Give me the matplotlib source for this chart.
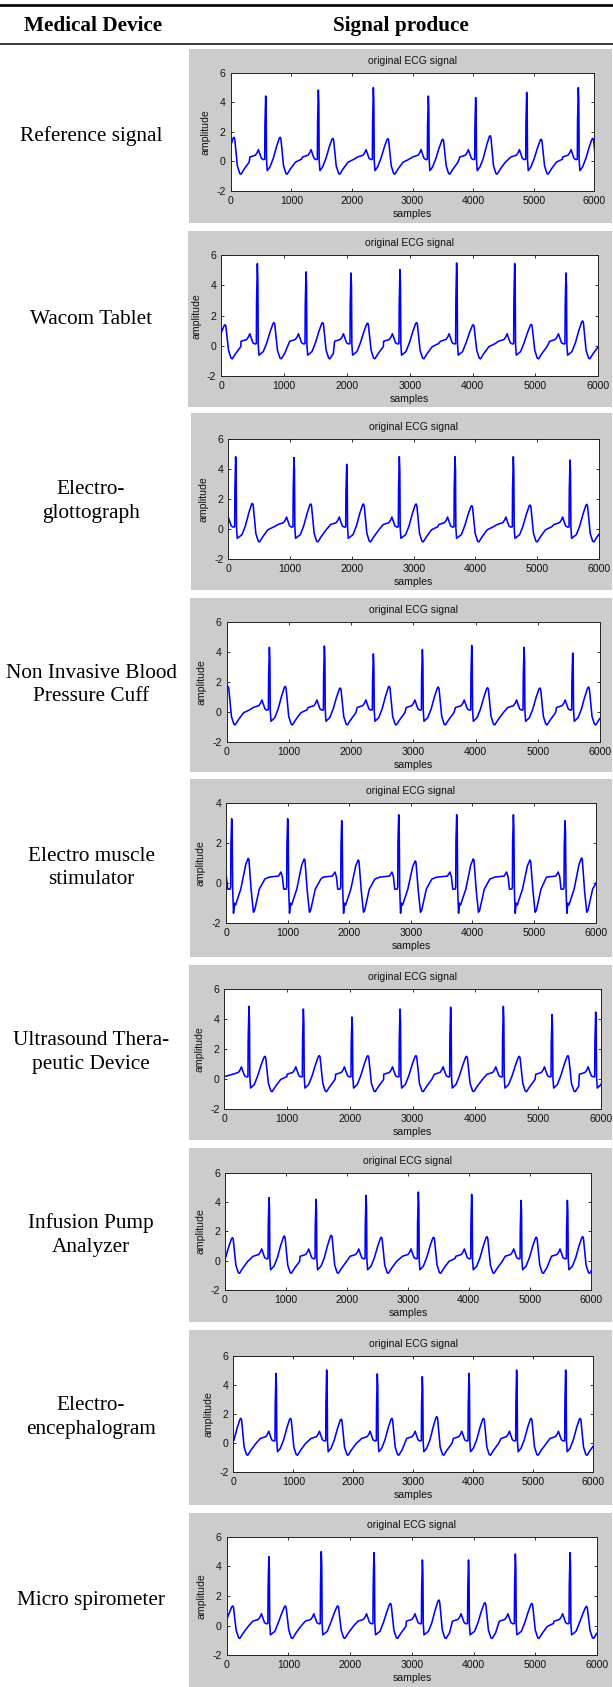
import matplotlib
matplotlib.use("Agg")
import matplotlib.pyplot as plt
from matplotlib.patches import Rectangle
from matplotlib.lines import Line2D

plt.rcParams["axes.unicode_minus"] = False

# ---------------- data ----------------
DEVICES = ["Reference signal", "Wacom Tablet", "Electro-\nglottograph",
           "Non Invasive Blood\nPressure Cuff", "Electro muscle\nstimulator",
           "Ultrasound Thera-\npeutic Device", "Infusion Pump\nAnalyzer",
           "Electro-\nencephalogram", "Micro spirometer"]
HEADER_LEFT = "Medical Device"
HEADER_RIGHT = "Signal produce"
PANEL_TITLE = "original ECG signal"
XLABEL = "samples"
YLABEL = "amplitude"
XTICKS = [0, 1000, 2000, 3000, 4000, 5000, 6000]

# R-peak sample positions / R amplitudes / T-wave amplitudes per device
R1_POS = [-185, 577, 1446, 2354, 3261, 4042, 4884, 5736, 6600]
R1_AMP = [4.5, 4.42, 4.83, 4.99, 4.42, 4.31, 4.67, 4.99, 4.5]
T1_AMP = [1.63, 1.63, 1.56, 1.54, 1.5, 1.74, 1.5, 1.56, 1.6]

R2_POS = [-200, 578, 1352, 2067, 2846, 3747, 4670, 5486, 6300]
R2_AMP = [5.0, 5.45, 4.9, 4.83, 5.05, 5.49, 5.45, 4.83, 5.0]
T2_AMP = [1.4, 1.54, 1.54, 1.5, 1.54, 1.4, 1.42, 1.65, 1.5]

R3_POS = [-780, 119, 1063, 1916, 2768, 3669, 4613, 5531, 6450]
R3_AMP = [4.8, 4.82, 4.76, 4.31, 4.82, 4.82, 4.82, 4.6, 4.8]
T3_AMP = [1.6, 1.71, 1.67, 1.67, 1.67, 1.56, 1.6, 1.64, 1.6]

R4_POS = [-235, 686, 1570, 2357, 3145, 3938, 4779, 5561, 6400]
R4_AMP = [4.3, 4.31, 4.4, 3.87, 4.16, 4.44, 4.31, 3.93, 4.3]
T4_AMP = [1.71, 1.71, 1.6, 1.71, 1.67, 1.62, 1.6, 1.67, 1.6]

R5_POS = [-830, 92, 1001, 1878, 2803, 3744, 4664, 5502, 6400]
R5_AMP = [3.2, 3.2, 3.2, 3.1, 3.4, 3.4, 3.4, 3.1, 3.2]
T5_AMP = [1.2, 1.23, 1.2, 1.15, 1.1, 1.2, 1.15, 1.25, 1.2]

R6_POS = [-600, 393, 1260, 2035, 2801, 3608, 4448, 5224, 5920, 6800]
R6_AMP = [4.5, 4.84, 4.66, 4.13, 4.66, 4.78, 4.84, 4.29, 4.46, 4.5]
T6_AMP = [1.5, 1.5, 1.55, 1.55, 1.55, 1.5, 1.5, 1.55, 1.5, 1.5]

R7_POS = [-129, 722, 1493, 2314, 3172, 4047, 4857, 5617, 6450]
R7_AMP = [4.3, 4.3, 4.18, 4.45, 4.68, 4.52, 4.11, 4.11, 4.3]
T7_AMP = [1.57, 1.68, 1.73, 1.6, 1.6, 1.64, 1.6, 1.64, 1.6]

R8_POS = [-117, 711, 1556, 2400, 3150, 3928, 4722, 5539, 6400]
R8_AMP = [4.8, 4.8, 5.03, 4.76, 4.57, 4.8, 5.03, 5.03, 4.8]
T8_AMP = [1.69, 1.69, 1.64, 1.69, 1.81, 1.69, 1.69, 1.69, 1.7]

R9_POS = [-170, 683, 1532, 2386, 3171, 3918, 4677, 5563, 6400]
R9_AMP = [4.8, 4.65, 4.99, 4.92, 4.43, 4.43, 4.83, 4.92, 4.8]
T9_AMP = [1.33, 1.33, 1.33, 1.5, 1.73, 1.55, 1.5, 1.3, 1.4]

# T-peak delay after R (samples) per device
T_DELAY = [240, 265, 272, 256, 268, 255, 252, 243, 268]
Y_LIMS = [(-2, 6)] * 4 + [(-2, 4)] + [(-2, 6)] * 4

# beat shape key points (offset from R, value, kind)
# kind: H = fraction of R amp, T = fraction of T amp (moves with T delay),
#       s = absolute (moves with T delay), a = absolute
POST_OFF = [0, 8, 14, 26, 80, 135, 190, 235, 250, 262, 305, 345, 365, 420, 500, 600]
POST_VAL = [1.0, 0.82, 0.1, -0.62, -0.38, 0.2, 0.62, 0.96, 1.0, 0.93, -0.3, -0.82, -0.86, -0.5, -0.05, 0.15]
POST_KIND = ["H", "H", "a", "a", "s", "s", "T", "T", "T", "T", "s", "s", "s", "s", "s", "s"]
PRE_OFF = [-260, -170, -140, -120, -100, -70, -35, -16, -12]
PRE_VAL = [0.3, 0.42, 0.6, 0.8, 0.55, 0.2, 0.12, 0.15, 0.55]
PRE_KIND = ["a", "a", "a", "a", "a", "a", "a", "a", "H"]

# electro muscle stimulator beat shape
POST5_OFF = [0, 8, 16, 30, 45, 62, 130, 210, 250, 262, 300, 335, 355, 430, 520, 600]
POST5_VAL = [1.0, 0.82, -0.3, -1.5, -1.0, -1.1, -0.3, 0.75, 1.0, 0.95, -0.4, -1.45, -1.35, -0.3, 0.2, 0.3]
POST5_KIND = ["H", "H", "a", "a", "a", "a", "s", "T", "T", "T", "s", "s", "s", "s", "s", "s"]
PRE5_OFF = [-300, -150, -110, -85, -65, -25, -16, -12]
PRE5_VAL = [0.3, 0.35, 0.55, 0.3, -0.3, -0.3, -0.2, 0.6]
PRE5_KIND = ["a", "a", "a", "a", "a", "a", "a", "H"]

R_POS = [R1_POS, R2_POS, R3_POS, R4_POS, R5_POS, R6_POS, R7_POS, R8_POS, R9_POS]
R_AMP = [R1_AMP, R2_AMP, R3_AMP, R4_AMP, R5_AMP, R6_AMP, R7_AMP, R8_AMP, R9_AMP]
T_AMP = [T1_AMP, T2_AMP, T3_AMP, T4_AMP, T5_AMP, T6_AMP, T7_AMP, T8_AMP, T9_AMP]

# ---------------- layout (pixels) ----------------
W, H = 613, 1687
GRAY = [(189, 49, 612, 223), (188, 231, 612, 407), (190.5, 413, 612, 590),
        (190, 598, 612, 772), (190, 779, 612, 957), (189, 965, 612, 1140),
        (189, 1148, 612, 1322), (189, 1330, 612, 1505), (189, 1513, 612, 1687)]
AXES = [(230.7, 72.7, 594.3, 191), (221, 255.3, 598.3, 376), (228.3, 439, 599, 559),
        (226.7, 622, 600, 742), (226, 802.7, 595.7, 923.3), (224.3, 989, 600.7, 1108.7),
        (225, 1172.7, 590.7, 1290), (233.3, 1356, 593.3, 1471.7), (226.7, 1536.7, 597, 1655.3)]

SERIF = ["Liberation Serif", "DejaVu Serif"]
SANS = ["Liberation Sans", "DejaVu Sans"]
TXT = "#111111"


def fx(x):
    return x / W


def fy(y):
    return 1 - y / H


def build(r_pos, r_amp, t_amp, t_delay, post, pre):
    p_off, p_val, p_kind = post
    q_off, q_val, q_kind = pre
    shift = t_delay - 250
    xs, ys = [], []
    for i in range(len(r_pos) - 1):
        r, h, tt = r_pos[i], r_amp[i], t_amp[i]
        nr, nh = r_pos[i + 1], r_amp[i + 1]
        limit = nr + q_off[0]
        for off, val, kind in zip(p_off, p_val, p_kind):
            if kind == "H":
                x, y = r + off, val * h
            elif kind == "T":
                x, y = r + off + shift, val * tt
            elif kind == "s":
                x, y = r + off + shift, val
            else:
                x, y = r + off, val
            if x < limit:
                xs.append(x)
                ys.append(y)
        for off, val, kind in zip(q_off, q_val, q_kind):
            xs.append(nr + off)
            ys.append(val * nh if kind == "H" else val)
    xs.append(r_pos[-1])
    ys.append(r_amp[-1])
    return xs, ys


fig = plt.figure(figsize=(W / 100, H / 100), dpi=100)

# table rules and header
fig.add_artist(Line2D([0, 1], [fy(5), fy(5)], transform=fig.transFigure, color="black", lw=1.9))
fig.add_artist(Line2D([0, 1], [fy(43.5), fy(43.5)], transform=fig.transFigure, color="black", lw=1.1))
fig.text(fx(93), fy(26), HEADER_LEFT, family=SERIF, weight="bold", fontsize=15.3, ha="center", va="center")
fig.text(fx(401), fy(26), HEADER_RIGHT, family=SERIF, weight="bold", fontsize=15.3, ha="center", va="center")

for k in range(9):
    gx0, gy0, gx1, gy1 = GRAY[k]
    fig.add_artist(Rectangle((fx(gx0), fy(gy1)), (gx1 - gx0) / W, (gy1 - gy0) / H,
                             transform=fig.transFigure, facecolor="#cccccc", edgecolor="none", zorder=-5))
    fig.text(fx(91), fy((gy0 + min(gy1, 1690)) / 2), DEVICES[k], family=SERIF, fontsize=15.3,
             ha="center", va="center", linespacing=1.32)

    ax0, ay0, ax1, ay1 = AXES[k]
    ax = fig.add_axes([fx(ax0), fy(ay1), (ax1 - ax0) / W, (ay1 - ay0) / H])
    ax.set_facecolor("white")
    if k == 4:
        post = (POST5_OFF, POST5_VAL, POST5_KIND)
        pre = (PRE5_OFF, PRE5_VAL, PRE5_KIND)
    else:
        post = (POST_OFF, POST_VAL, POST_KIND)
        pre = (PRE_OFF, PRE_VAL, PRE_KIND)
    xs, ys = build(R_POS[k], R_AMP[k], T_AMP[k], T_DELAY[k], post, pre)
    ax.plot(xs, ys, color="#0000ff", lw=1.15)
    ax.set_xlim(0, 6000)
    lo, hi = Y_LIMS[k]
    ax.set_ylim(lo, hi)
    ax.set_xticks(XTICKS)
    ax.set_yticks(list(range(lo, hi + 1, 2)))
    ax.tick_params(direction="in", length=2.5, width=0.6, top=True, right=True,
                   labelsize=7.6, pad=3.5, colors=TXT)
    for lab in ax.get_xticklabels() + ax.get_yticklabels():
        lab.set_family(SANS)
    for s in ax.spines.values():
        s.set_linewidth(0.7)
        s.set_color("#222222")
    w_px = ax1 - ax0
    h_px = ay1 - ay0
    ax.text(0.5, 1 + 12 / h_px, PANEL_TITLE, transform=ax.transAxes, ha="center", va="center",
            family=SANS, fontsize=7.5, color=TXT)
    ax.set_xlabel(XLABEL, family=SANS, fontsize=7.6, color=TXT)
    ax.xaxis.set_label_coords(0.5, -23 / h_px)
    ax.xaxis.label.set_va("center")
    ax.set_ylabel(YLABEL, family=SANS, fontsize=7.6, color=TXT)
    ax.yaxis.set_label_coords(-25 / w_px, 0.5)
    ax.yaxis.label.set_va("center")
    ax.yaxis.label.set_ha("center")

fig.savefig("out.png", dpi=100, facecolor="white")
